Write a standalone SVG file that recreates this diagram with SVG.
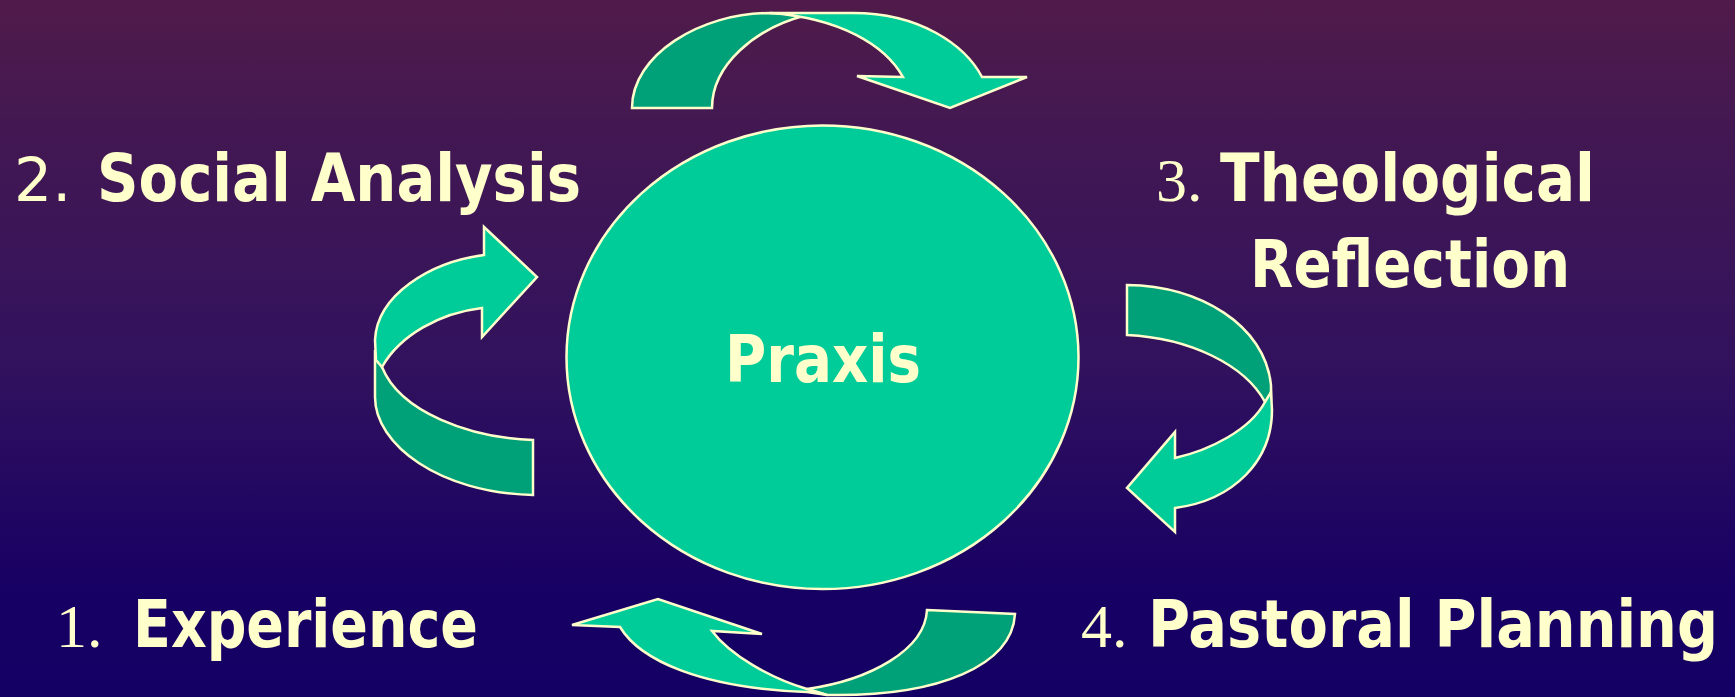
<svg xmlns="http://www.w3.org/2000/svg" width="1735" height="697" viewBox="0 0 1735 697">
<defs>
<linearGradient id="bg" x1="0" y1="0" x2="0" y2="1">
<stop offset="0" stop-color="#501B4A"/>
<stop offset="0.18" stop-color="#431852"/>
<stop offset="0.52" stop-color="#32125E"/>
<stop offset="0.85" stop-color="#170064"/>
<stop offset="1" stop-color="#140064"/>
</linearGradient>
<style>
.light{fill:#00CC99;stroke:#FFFFCC;stroke-width:2.5;stroke-linejoin:miter}
.dark{fill:#00A078;stroke:#FFFFCC;stroke-width:2.5;stroke-linejoin:miter}
.lbl{fill:#FFFFCC;font-family:"DejaVu Sans","Liberation Sans",sans-serif;font-stretch:condensed;font-weight:bold;font-size:66px}
.nser{font-family:"Liberation Serif","Times New Roman",serif;font-stretch:normal;font-weight:normal;font-size:62px}
.nsans{font-family:"DejaVu Sans","Liberation Sans",sans-serif;font-stretch:normal;font-weight:normal;font-size:60px}
</style>
</defs>
<rect x="0" y="0" width="1735" height="697" fill="url(#bg)"/>

<g id="connectors">
<g id="arrow-top">
<path class="dark" d="M632,108 C632,55 700,13 770,13 L807,15 C755,28 712,65 712,108 Z"/>
<path class="light" d="M770,13 L853,13 C920,13 965,45 982,77 L1027,77 L950,108 L857,76 L903,77 C885,45 840,18 770,13 Z"/>
</g>
<g id="arrow-left">
<path class="dark" d="M375,350 L375,397 C375,445 440,493 533,495 L533,440 C470,438 400,412 382,367 Z"/>
<path class="light" d="M484,255 C430,262 377,295 375,340 L376,360 L382,367 C400,335 440,313 482,308 L482,337 L537,277 L484,227 Z"/>
</g>
<g id="arrow-right">
<path class="dark" d="M1127,285 C1200,286 1265,325 1271,385 L1271,400 L1265,402 C1245,365 1190,338 1127,335 Z"/>
<path class="light" d="M1265,402 L1271,392 L1272,410 C1272,460 1235,500 1175,508 L1175,532 L1127,488 L1175,432 L1175,458 C1210,450 1250,430 1265,402 Z"/>
</g>
<g id="arrow-bottom">
<path class="dark" d="M927,610 L1015,614 C1012,665 940,697 827,695 L807,689 C870,680 925,650 927,610 Z"/>
<path class="light" d="M620,627 C640,660 700,688 807,692 L827,695 L807,689 C770,678 730,655 712,631 L762,634 L658,599 L572,625 Z"/>
</g>
</g>

<g id="praxis">
<ellipse cx="822.5" cy="357.3" rx="256" ry="231.8" fill="#00CC99" stroke="#FFFFCC" stroke-width="2.5"/>
<text class="lbl" x="725" y="382" textLength="196" lengthAdjust="spacingAndGlyphs">Praxis</text>
</g>

<g id="social-analysis">
<text class="lbl" y="201"><tspan class="nsans" x="14">2. </tspan><tspan x="97" textLength="484" lengthAdjust="spacingAndGlyphs">Social Analysis</tspan></text>
</g>

<g id="theological-reflection">
<text class="lbl" y="201"><tspan class="nser" x="1156">3. </tspan><tspan x="1220" textLength="375" lengthAdjust="spacingAndGlyphs">Theological</tspan></text>
<text class="lbl" x="1250" y="287" textLength="320" lengthAdjust="spacingAndGlyphs">Reflection</text>
</g>

<g id="experience">
<text class="lbl" y="647"><tspan class="nser" x="56">1. </tspan><tspan x="133" textLength="345" lengthAdjust="spacingAndGlyphs">Experience</tspan></text>
</g>

<g id="pastoral-planning">
<text class="lbl" y="647"><tspan class="nser" x="1081">4. </tspan><tspan x="1148" textLength="570" lengthAdjust="spacingAndGlyphs">Pastoral Planning</tspan></text>
</g>
</svg>
